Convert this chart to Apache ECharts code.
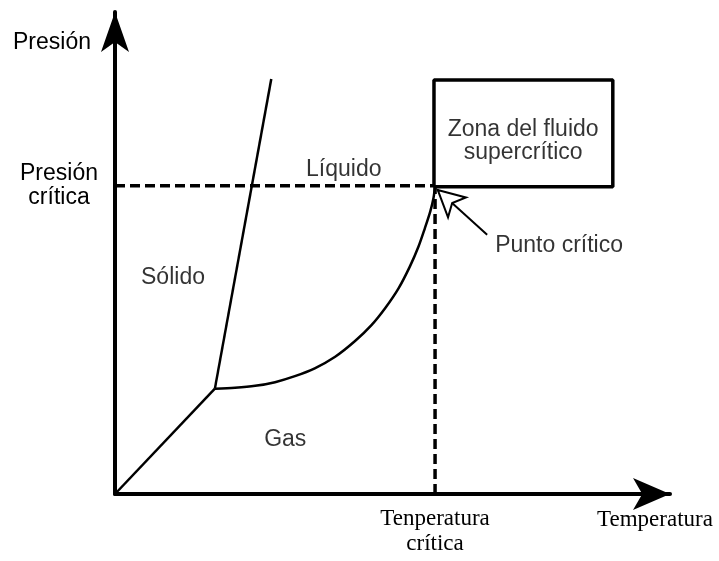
<!DOCTYPE html>
<html><head><meta charset="utf-8">
<script src="https://cdn.jsdelivr.net/npm/echarts@6/dist/echarts.min.js"></script>
<style>html,body{margin:0;padding:0;background:#fff}#c{width:719px;height:561px}</style>
</head><body><div id="c"></div>
<script>
// ---- data (arbitrary units) ----
const xMax = 103.35;
const yMax = 104.3;
const criticalPoint = [59.6, 66.7];
const sublimationCurve = [[0, 0], [18.6, 22.8]];
const fusionCurve = [[18.6, 22.8], [29.1, 89.8]];
const vaporCurve = [[18.6, 22.8], [22.35, 23.0], [26.1, 23.4], [29.8, 24.2], [33.5, 25.5], [37.2, 27.2],
  [41.0, 29.7], [44.7, 33.1], [47.8, 36.6], [50.3, 40.2], [52.8, 44.5], [54.9, 49.2], [56.5, 53.5],
  [57.7, 57.5], [58.7, 61.1], [59.3, 64.0], [59.6, 66.7]];
const criticalPressureLine = [[0, 66.7], [59.6, 66.7]];
const criticalTempLine = [[59.6, 0], [59.6, 66.7]];
const supercriticalBox = [[59.4, 66.5], [92.7, 66.5], [92.7, 89.6], [59.4, 89.6], [59.4, 66.5]];
const regionNames = ['Sólido', 'Líquido', 'Gas', 'Zona del fluido\nsupercrítico', 'Punto crítico'];
const regionPos = [[10.8, 46.8], [42.6, 70.1], [31.7, 11.7], [76.0, 76.4], [82.7, 53.7]];
const pointerLine = [[69.3, 56.1], [60.1, 65.8]];
const xTickValues = [59.6];
const xTickLabels = ['Tenperatura\ncrítica'];
const yTickValues = [66.7];
const yTickLabels = ['Presión\ncrítica'];
const xName = 'Temperatura';
const yName = 'Presión';

const SANS = 'Liberation Sans, Arial, sans-serif';
const SERIF = 'Liberation Serif, Times New Roman, serif';

const chart = echarts.init(document.getElementById('c'), null, {renderer: 'canvas'});
const lineSeries = (data, width, type, extra) => Object.assign({
  type: 'line', data, symbol: 'none', showSymbol: false, silent: true, z: 3,
  lineStyle: {color: '#000', width, type: type || 'solid'}
}, extra || {});

chart.setOption({
  animation: false,
  backgroundColor: '#fff',
  grid: {left: 115, right: 49, top: 12, bottom: 67, containLabel: false, outerBoundsMode: 'none'},
  xAxis: {
    type: 'value', min: 0, max: xMax,
    splitLine: {show: false}, axisTick: {show: false},
    axisLine: {show: true, onZero: false, symbol: ['none', 'arrow'], symbolSize: [24, 37],
      lineStyle: {color: '#000', width: 4}},
    axisLabel: {customValues: xTickValues, formatter: v => xTickLabels[xTickValues.indexOf(v)] || '',
      fontFamily: SERIF, fontSize: 23, lineHeight: 25, color: '#000', margin: 12},
    name: xName, nameLocation: 'end', nameGap: -15,
    nameTextStyle: {fontFamily: SERIF, fontSize: 23, lineHeight: 25, color: '#000',
      align: 'center', verticalAlign: 'top', padding: [13, 0, 0, 0]}
  },
  yAxis: {
    type: 'value', min: 0, max: yMax,
    splitLine: {show: false}, axisTick: {show: false},
    axisLine: {show: true, onZero: false, symbol: ['none', 'arrow'], symbolSize: [21, 40],
      lineStyle: {color: '#000', width: 4}},
    axisLabel: {customValues: yTickValues, formatter: v => yTickLabels[yTickValues.indexOf(v)] || '',
      fontFamily: SANS, fontSize: 23, lineHeight: 24, color: '#000', margin: 56, align: 'center',
      padding: [3, 0, 0, 0]},
    name: yName, nameLocation: 'end', nameGap: -31,
    nameTextStyle: {fontFamily: SANS, fontSize: 23, color: '#000',
      align: 'right', verticalAlign: 'middle', padding: [0, 24, 0, 0]}
  },
  series: [
    lineSeries(criticalPressureLine, 3.5, [10, 5]),
    lineSeries(criticalTempLine, 3.5, [10, 5]),
    lineSeries(sublimationCurve, 2.5),
    lineSeries(fusionCurve, 2.5),
    lineSeries(vaporCurve, 2.5, 'solid', {smooth: 0.3}),
    lineSeries(supercriticalBox, 3.5, 'solid', {
      markLine: {
        silent: true, symbol: ['none', 'emptyArrow'], symbolSize: [20, 26],
        lineStyle: {color: '#000', width: 2, type: 'solid'}, label: {show: false},
        data: [[{coord: pointerLine[0]}, {coord: pointerLine[1]}]]
      }
    }),
    {
      type: 'scatter', silent: true, symbolSize: 0, z: 5,
      data: regionNames.map((n, i) => ({name: n, value: regionPos[i]})),
      label: {show: true, position: 'inside', formatter: p => p.name,
        fontFamily: SANS, fontSize: 23, lineHeight: 23, color: '#000'}
    }
  ]
});
</script></body></html>
